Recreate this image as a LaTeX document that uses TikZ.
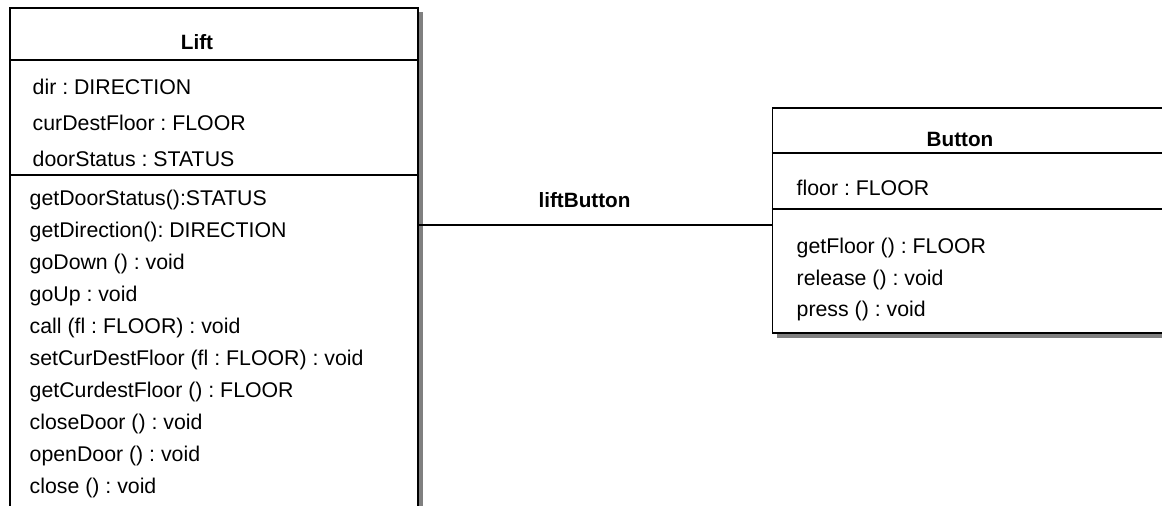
\documentclass[tikz,border=0pt]{standalone}
\usepackage{fontspec}
\setmainfont{Liberation Sans}
\frenchspacing
\begin{document}
\begin{tikzpicture}[x=1pt,y=-1pt,
  classbox/.style={draw=black, line width=1.7pt, fill=white, rectangle, inner sep=0pt, anchor=north west},
  shadow/.style={fill=black!50, draw=none},
  sep/.style={draw=black, line width=1.7pt},
  member/.style={anchor=base west, inner sep=0pt, font=\fontsize{21.3}{25}\selectfont},
  title/.style={anchor=base, inner sep=0pt, font=\fontsize{20.7}{25}\selectfont\bfseries},
  assoc/.style={draw=black, line width=1.5pt}]
\useasboundingbox (0,0) rectangle (1162,506);
\clip (0,0) rectangle (1162,506);

% drop shadows
\fill[shadow] (417,12) rectangle (423,520);
\fill[shadow] (777,332) rectangle (1170,338);

% class Lift
\node[classbox, minimum width=408pt, minimum height=513pt] (lift) at (9,7) {};
\draw[sep] (9,60) -- (417,60);
\draw[sep] (9,175) -- (417,175);
\node[title] (liftname) at (197,49.3) {Lift};
\node[member] (a1) at (32.5,94) {dir : DIRECTION};
\node[member] (a2) at (32.5,130) {curDestFloor : FLOOR};
\node[member] (a3) at (32.5,166.5) {doorStatus : STATUS};
\node[member] (m1) at (29.5,205.3) {getDoorStatus():STATUS};
\node[member] (m2) at (29.5,237.3) {getDirection(): DIRECTION};
\node[member] (m3) at (29.5,269.3) {goDown () : void};
\node[member] (m4) at (29.5,301.3) {goUp : void};
\node[member] (m5) at (29.5,333.3) {call (fl : FLOOR) : void};
\node[member] (m6) at (29.5,365.3) {setCurDestFloor (fl : FLOOR) : void};
\node[member] (m7) at (29.5,397.3) {getCurdestFloor () : FLOOR};
\node[member] (m8) at (29.5,429.3) {closeDoor () : void};
\node[member] (m9) at (29.5,461.3) {openDoor () : void};
\node[member] (m10) at (29.5,493.3) {close () : void};

% class Button
\node[classbox, minimum width=400pt, minimum height=224.5pt] (button) at (771.7,107.3) {};
\draw[sep] (771.7,153.3) -- (1175,153.3);
\draw[sep] (771.7,209) -- (1175,209);
\node[title] (buttonname) at (960,146.7) {Button};
\node[member] (b1) at (796.5,195) {floor : FLOOR};
\node[member] (b2) at (796.5,253.3) {getFloor () : FLOOR};
\node[member] (b3) at (796.5,285) {release () : void};
\node[member] (b4) at (796.5,316.7) {press () : void};

% association
\coordinate (mid) at (590,225);
\draw[assoc] (lift.east |- mid) -- (button.west |- mid);
\node[title] (role) at (584.5,207.3) {liftButton};
\end{tikzpicture}
\end{document}
